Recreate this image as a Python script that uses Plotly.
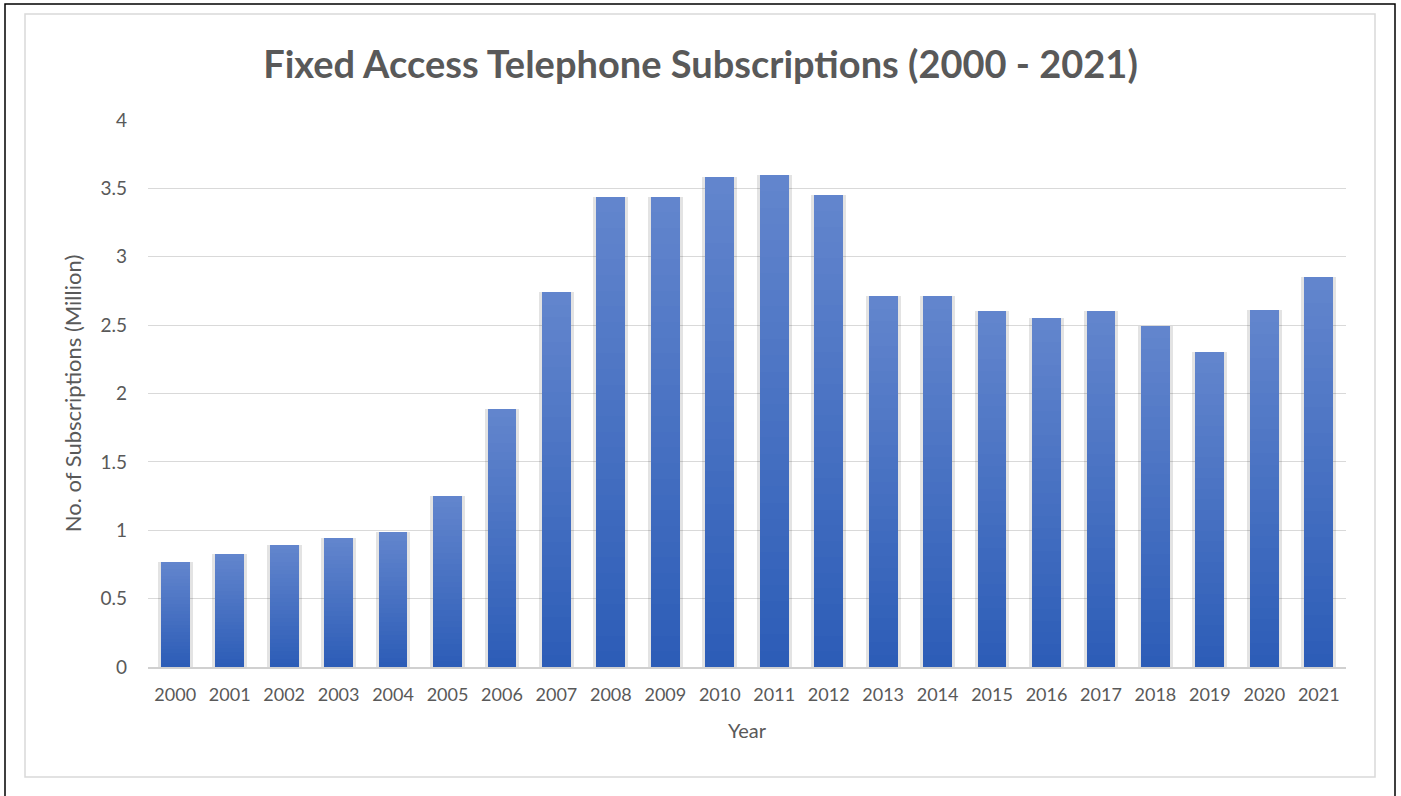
import plotly.graph_objects as go

years = [str(y) for y in range(2000, 2022)]
subscriptions = [0.77, 0.83, 0.89, 0.94, 0.99, 1.25, 1.89, 2.74, 3.44, 3.44, 3.58, 3.60,
                 3.45, 2.71, 2.71, 2.60, 2.55, 2.60, 2.49, 2.30, 2.61, 2.85]
y_ticks = [0, 0.5, 1, 1.5, 2, 2.5, 3, 3.5, 4]

W, H = 1401, 796
L, R, T, B = 148, 55, 120, 129
pw, ph = W - L - R, H - T - B

def px(x):
    return (x - L) / pw

def py(y):
    return (H - B - y) / ph

fig = go.Figure()
# soft shadow behind bars
fig.add_trace(go.Bar(x=years, y=subscriptions, width=0.64, yaxis="y",
                     marker=dict(color="rgba(0,0,0,0.11)", line=dict(width=0)),
                     hoverinfo="skip", showlegend=False))

# vertical gradient: stack thin slices of each bar, dark at the bottom, light at the top
N = 30
top_rgb = (98, 133, 205)
bot_rgb = (45, 93, 183)
for i in range(N):
    t = i / (N - 1)
    c = tuple(round(b + (tp - b) * t) for b, tp in zip(bot_rgb, top_rgb))
    fig.add_trace(go.Bar(x=years, y=[v / N for v in subscriptions], width=0.53, yaxis="y2",
                         marker=dict(color="rgb(%d,%d,%d)" % c, line=dict(width=0)),
                         customdata=subscriptions,
                         hovertemplate="%{x}: %{customdata}<extra></extra>",
                         showlegend=False))

font_family = "Lato, Open Sans, sans-serif"
fig.update_layout(
    width=W, height=H,
    margin=dict(l=L, r=R, t=T, b=B),
    paper_bgcolor="white", plot_bgcolor="white",
    barmode="stack",
    bargap=0,
    title=dict(text="<b>Fixed Access Telephone Subscriptions (2000 - 2021)</b>",
               x=0.5, xanchor="center", y=1 - 65 / H, yanchor="middle",
               font=dict(family=font_family, size=38, color="#595959")),
    font=dict(family=font_family, color="#595959", size=17),
    xaxis=dict(title=dict(text="Year", standoff=20, font=dict(size=20, color="#595959")),
               showgrid=False, showline=True, linecolor="#d0d0d0", linewidth=2,
               ticks="", ticklabelstandoff=10, tickfont=dict(size=18, color="#595959")),
    yaxis=dict(title=dict(text="No. of Subscriptions (Million)", standoff=12,
                          font=dict(size=22, color="#595959")),
               range=[0, 4], tickvals=y_ticks, ticktext=[f"{v:g}" for v in y_ticks],
               showgrid=True, gridcolor="#d9d9d9", gridwidth=1, zeroline=False,
               showline=False, ticks="", ticklabelstandoff=20,
               tickfont=dict(size=19, color="#595959")),
    yaxis2=dict(overlaying="y", range=[0, 4], showgrid=False, zeroline=False,
                showticklabels=False, showline=False, ticks=""),
    shapes=[
        dict(type="rect", xref="paper", yref="paper",
             x0=px(5), x1=px(1395), y0=py(810), y1=py(4),
             line=dict(color="black", width=1.5), fillcolor="rgba(0,0,0,0)", layer="below"),
        dict(type="rect", xref="paper", yref="paper",
             x0=px(25), x1=px(1375), y0=py(777), y1=py(14),
             line=dict(color="#d9d9d9", width=1.5), fillcolor="rgba(0,0,0,0)", layer="below"),
    ],
)

fig.write_html("out.html", config={"displayModeBar": False},
               post_script="document.body.style.margin='0';")
